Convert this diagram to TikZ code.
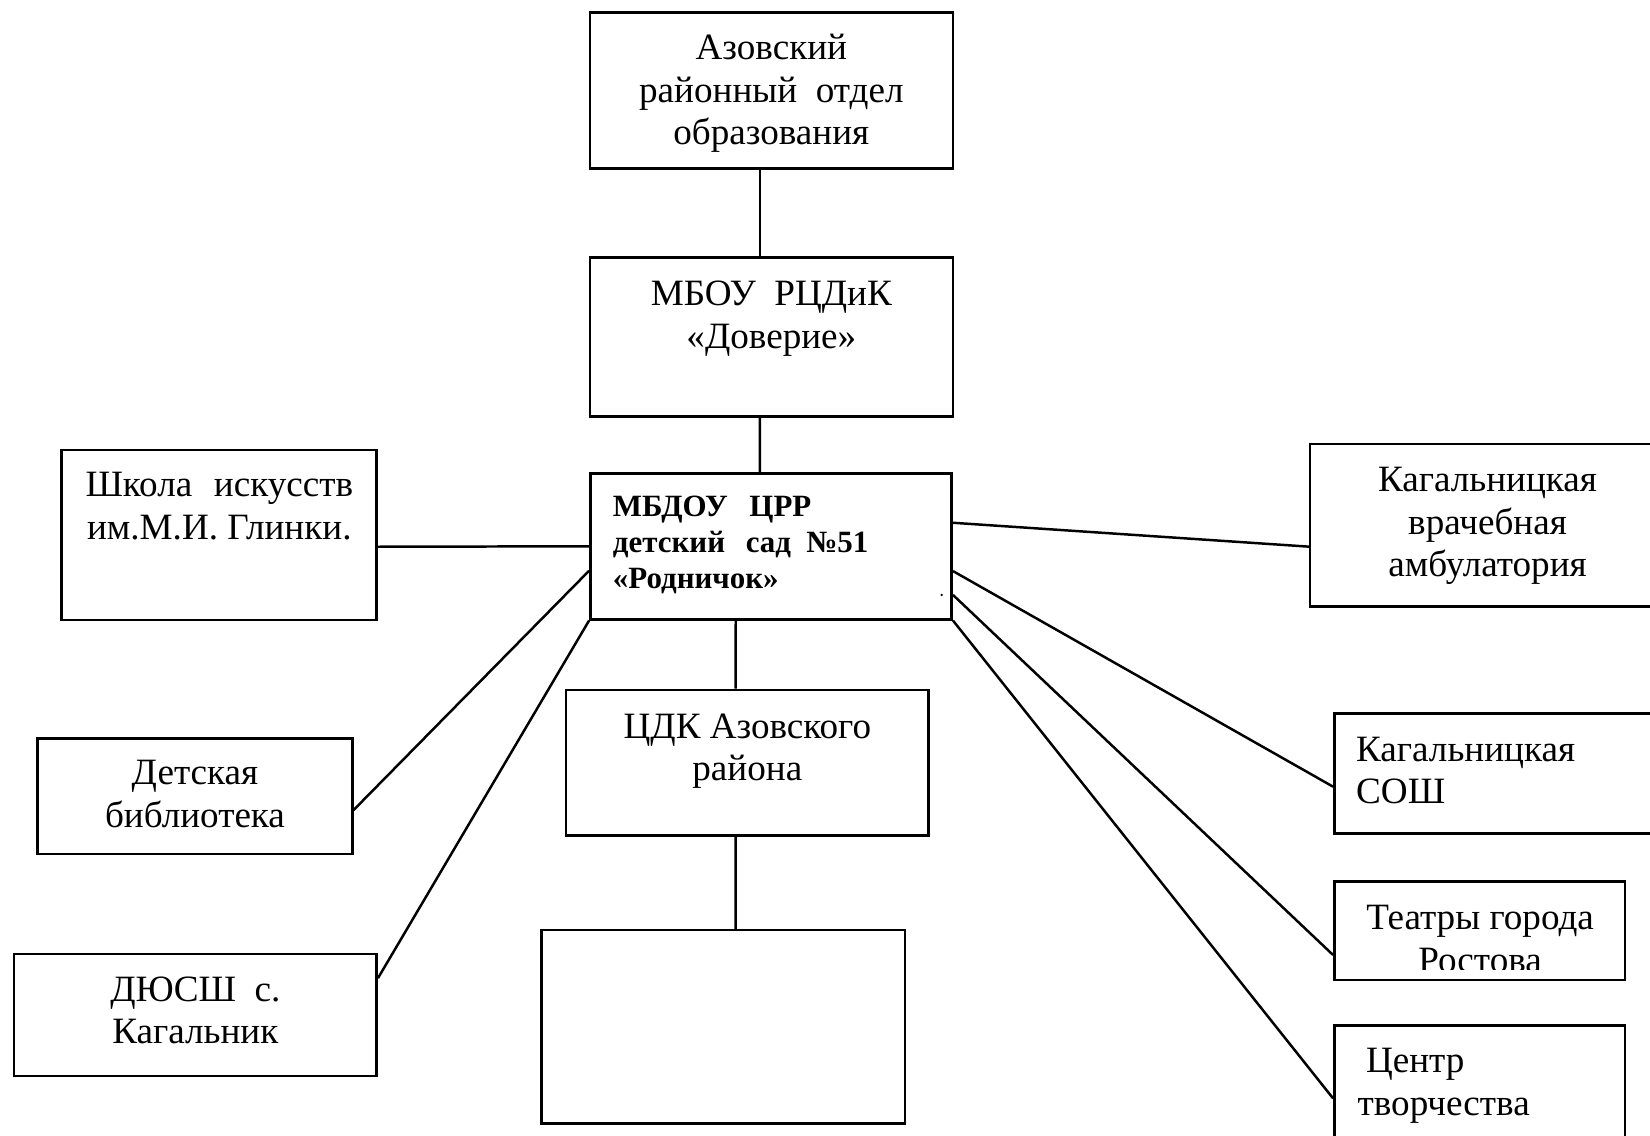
\documentclass[tikz,border=0pt]{standalone}
\usepackage{fontspec}
\setmainfont{Liberation Serif}
\usetikzlibrary{fit}

\begin{document}
\begin{tikzpicture}[x=0.34pt, y=-0.34pt, line width=0.8pt,
    box/.style={draw, inner sep=0pt},
    txt/.style={anchor=north, inner sep=0pt, align=center,
      font=\fontsize{12}{13.8}\selectfont},
    txtl/.style={txt, anchor=north west, align=left},
    bold/.style={anchor=north west, inner sep=0pt, align=left,
      font=\bfseries\fontsize{10}{11.6}\selectfont}]
  \clip (0,0) rectangle (1568,1079.5);
  \node[box, fit={(560.7,12) (905.4,160)}] (otdel) {};
  \node[box, fit={(560.7,244.5) (905.4,396)}] (rcdik) {};
  \node[box, fit={(561,449.8) (904.4,588.5)}] (mbdou) {};
  \node[box, fit={(58.6,427.6) (358,589.2)}] (shkola) {};
  \node[box, fit={(35.8,701.6) (334.8,811.6)}] (biblio) {};
  \node[box, fit={(13.3,906.6) (358,1022.5)}] (dussh) {};
  \node[box, fit={(537.9,655.6) (882.5,794.2)}] (cdk) {};
  \node[box, fit={(514.7,883.8) (860,1067.5)}] (pusto) {};
  \node[box, fit={(1245,421.9) (1582,576.5)}] (ambul) {};
  \node[box, fit={(1268,677.9) (1582,792)}] (sosh) {};
  \node[box, fit={(1268,837.9) (1544.3,931.3)}] (teatr) {};
  \node[box, fit={(1268,974.7) (1544.3,1100)}] (centr) {};

  \node[txt] (otdelT) at (733,27) {\strut Азовский\\районный\ \ отдел\\образования};
  \node[txt] (rcdikT) at (733,260.6) {\strut МБОУ\ \ РЦДиК\\«Доверие»};
  \node[bold] (mbdouT) at (581.3,465.5) {\strut МБДОУ\hspace{7pt}ЦРР\\детский\hspace{6.7pt}сад\hspace{4.9pt}№51\\«Родничок»};
  \node[txt] (shkolaT) at (208.4,442.6) {\strut Школа\hspace{7pt}искусств\\им.М.И. Глинки.};
  \node[txt] (biblioT) at (185.3,716) {\strut Детская\\библиотека};
  \node[txt] (dusshT) at (185.6,921.9) {\strut ДЮСШ\ \ с.\\Кагальник};
  \node[txt] (cdkT) at (710.2,671.8) {\strut ЦДК Азовского\\района};
  \node[txt] (ambulT) at (1413.6,437.3) {\strut Кагальницкая\\врачебная\\амбулатория};
  \node[txtl] (soshT) at (1287.6,693.8) {\strut Кагальницкая\\СОШ};
  \begin{scope}
    \clip (1268,837.9) rectangle (1544.3,921.5);
    \node[txt] (teatrT) at (1406.5,853.8) {\strut Театры города\\Ростова};
  \end{scope}
  \node[txtl] (centrT) at (1289,990) {\strut\hspace*{2.7pt}Центр\\творчества};
  \fill (894.9,565.4) circle (1.2);

  \draw ([xshift=-3.7pt]otdel.south) -- ([xshift=-3.7pt]rcdik.north);
  \draw ([xshift=-3.7pt]rcdik.south) -- ([xshift=-3.6pt]mbdou.north);
  \draw ([yshift=-3.8pt]shkola.east) -- (mbdou.west);
  \draw ([yshift=-4.5pt]biblio.east) -- ([yshift=-7.9pt]mbdou.west);
  \draw ([yshift=11.9pt]dussh.east) -- (mbdou.south west);
  \draw ([xshift=-11.4pt]mbdou.south) -- ([xshift=-3.8pt]cdk.north);
  \draw ([xshift=-3.8pt]cdk.south) -- ([xshift=4pt]pusto.north);
  \draw ([yshift=7.6pt]mbdou.east) -- ([yshift=-6.9pt]ambul.west);
  \draw ([yshift=-8pt]mbdou.east) -- ([yshift=-4.3pt]sosh.west);
  \draw ([yshift=-15.7pt]mbdou.east) -- ([yshift=-7.8pt]teatr.west);
  \draw (mbdou.south east) -- ([yshift=-2.2pt]centr.west);
\end{tikzpicture}
\end{document}
